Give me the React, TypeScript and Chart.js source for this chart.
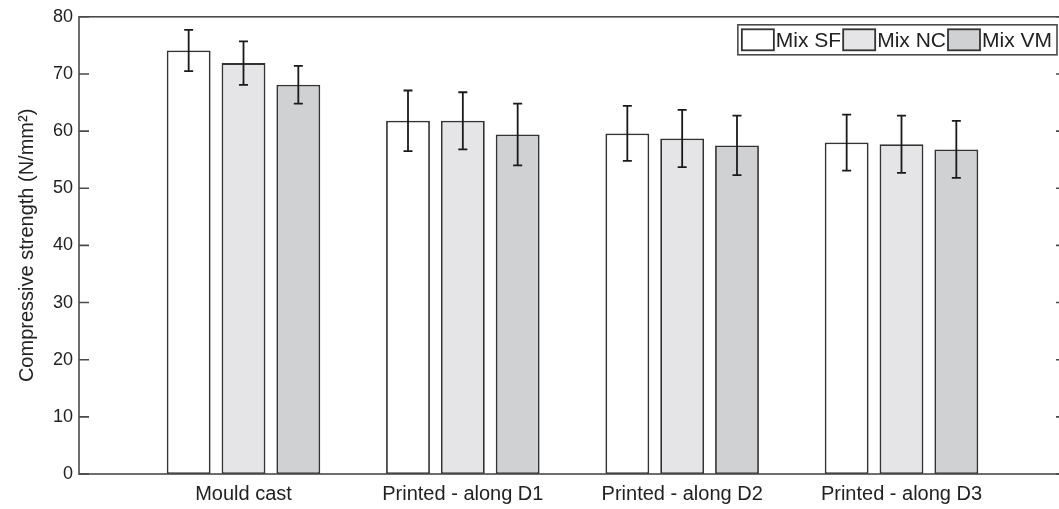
import React, { useEffect, useRef } from 'react';
import { Chart, registerables } from 'chart.js';

Chart.register(...registerables);

const categories = ['Mould cast', 'Printed - along D1', 'Printed - along D2', 'Printed - along D3'];
const categoryPositions = [1, 2, 3, 4];
const seriesNames = ['Mix SF', 'Mix NC', 'Mix VM'];
const mixSF = [74.1, 61.8, 59.6, 58.0];
const mixNC = [71.9, 61.8, 58.7, 57.7];
const mixVM = [68.1, 59.4, 57.5, 56.8];
const errSF = [3.6, 5.3, 4.8, 4.9];
const errNC = [3.8, 5.0, 5.0, 5.0];
const errVM = [3.3, 5.4, 5.2, 5.0];
const yTicks = [0, 10, 20, 30, 40, 50, 60, 70, 80];
const fillColors = ['#ffffff', '#e5e5e7', '#d0d1d3'];

const FONT = "'Liberation Sans', Arial, Helvetica, sans-serif";
const TEXT = '#222222';

const errorBarPlugin = {
  id: 'errorBars',
  afterDatasetsDraw(chart: any) {
    const { ctx } = chart;
    const y = chart.scales.y;
    ctx.save();
    ctx.strokeStyle = '#1a1a1a';
    ctx.lineWidth = 1.8;
    chart.data.datasets.forEach((ds: any, i: number) => {
      const meta = chart.getDatasetMeta(i);
      meta.data.forEach((el: any, j: number) => {
        const v = ds.data[j].y;
        const e = ds.errors[j];
        const x = el.x;
        const yt = y.getPixelForValue(v + e);
        const yb = y.getPixelForValue(v - e);
        const cap = 4.5;
        ctx.beginPath();
        ctx.moveTo(x, yt);
        ctx.lineTo(x, yb);
        ctx.moveTo(x - cap, yt);
        ctx.lineTo(x + cap, yt);
        ctx.moveTo(x - cap, yb);
        ctx.lineTo(x + cap, yb);
        ctx.stroke();
      });
    });
    ctx.restore();
  },
};

const framePlugin = {
  id: 'frame',
  afterDatasetsDraw(chart: any) {
    const { ctx, chartArea: a } = chart;
    const y = chart.scales.y;
    ctx.save();
    ctx.strokeStyle = '#4a4a4a';
    ctx.lineWidth = 1.6;
    ctx.strokeRect(a.left, a.top, a.right - a.left, a.bottom - a.top);
    ctx.beginPath();
    y.ticks.forEach((t: any) => {
      const py = y.getPixelForValue(t.value);
      ctx.moveTo(a.left, py);
      ctx.lineTo(a.left + 10, py);
      ctx.moveTo(a.right - 10, py);
      ctx.lineTo(a.right, py);
    });
    ctx.stroke();
    ctx.restore();
  },
};

const legendPlugin = {
  id: 'boxLegend',
  afterDraw(chart: any) {
    const { ctx, chartArea: a } = chart;
    const datasets = chart.data.datasets;
    ctx.save();
    ctx.font = `21px ${FONT}`;
    const sw = 32;
    const sh = 21;
    const gapAfterSwatch = 2;
    const gapAfterText = 2;
    const padL = 4;
    const padR = 3;
    let total = padL + padR;
    const widths = datasets.map((ds: any) => ctx.measureText(ds.label).width);
    widths.forEach((w: number) => (total += sw + gapAfterSwatch + w + gapAfterText));
    const boxH = 30;
    const right = a.right - 9;
    const left = right - total;
    const top = a.top + 8;
    ctx.fillStyle = '#ffffff';
    ctx.fillRect(left, top, total, boxH);
    ctx.strokeStyle = '#4a4a4a';
    ctx.lineWidth = 1.6;
    ctx.strokeRect(left, top, total, boxH);
    let x = left + padL;
    const cy = top + boxH / 2;
    datasets.forEach((ds: any, i: number) => {
      ctx.fillStyle = ds.backgroundColor;
      ctx.fillRect(x, cy - sh / 2, sw, sh);
      ctx.strokeStyle = '#333333';
      ctx.lineWidth = 1.8;
      ctx.strokeRect(x, cy - sh / 2, sw, sh);
      x += sw + gapAfterSwatch;
      ctx.fillStyle = TEXT;
      ctx.textBaseline = 'middle';
      ctx.textAlign = 'left';
      ctx.fillText(ds.label, x, cy + 1);
      x += widths[i] + gapAfterText;
    });
    ctx.restore();
  },
};

export default function App() {
  const canvasRef = useRef<HTMLCanvasElement | null>(null);

  useEffect(() => {
    const canvas = canvasRef.current;
    if (!canvas) return;
    const series = [mixSF, mixNC, mixVM];
    const errs = [errSF, errNC, errVM];
    const chart = new Chart(canvas, {
      type: 'bar',
      data: {
        datasets: series.map((vals, i) => ({
          label: seriesNames[i],
          data: vals.map((v, j) => ({ x: categoryPositions[j], y: v })),
          errors: errs[i],
          backgroundColor: fillColors[i],
          borderColor: '#333333',
          borderWidth: 1.8,
          borderSkipped: false,
          barPercentage: 0.8,
          categoryPercentage: 0.75,
        })) as any,
      },
      options: {
        animation: false,
        responsive: false,
        devicePixelRatio: 1,
        layout: { padding: { left: 0, right: 14, top: 14, bottom: 0 } },
        plugins: {
          legend: { display: false },
          tooltip: { enabled: false },
        },
        scales: {
          x: {
            type: 'linear',
            min: 0.25,
            max: 4.75,
            offset: false,
            grid: { display: false, drawTicks: false },
            border: { display: false },
            afterBuildTicks: (scale: any) => {
              scale.ticks = categoryPositions.map((v) => ({ value: v }));
            },
            afterFit: (scale: any) => {
              scale.height = 35;
            },
            ticks: {
              autoSkip: false,
              maxRotation: 0,
              padding: 8,
              color: TEXT,
              font: { family: FONT, size: 20 },
              callback: (value: any) => {
                const idx = categoryPositions.indexOf(Number(value));
                return idx >= 0 ? categories[idx] : '';
              },
            },
          },
          y: {
            min: 0,
            max: 80,
            grid: { display: false, drawTicks: false },
            border: { display: false },
            afterBuildTicks: (scale: any) => {
              scale.ticks = yTicks.map((v) => ({ value: v }));
            },
            afterFit: (scale: any) => {
              scale.width = 79;
            },
            ticks: {
              padding: 6,
              color: TEXT,
              font: { family: FONT, size: 18 },
            },
            title: {
              display: true,
              text: 'Compressive strength (N/mm²)',
              color: TEXT,
              font: { family: FONT, size: 20 },
              padding: { top: 15, bottom: 0 },
            },
          },
        },
      } as any,
      plugins: [errorBarPlugin, framePlugin, legendPlugin],
    });
    return () => chart.destroy();
  }, []);

  return (
    <div
      style={{
        position: 'fixed',
        left: 0,
        top: 0,
        width: '100vw',
        height: '100vh',
        overflow: 'hidden',
        background: '#ffffff',
      }}
    >
      <canvas
        ref={canvasRef}
        width={1080}
        height={509}
        style={{ position: 'absolute', left: 0, top: 0, width: 1080, height: 509 }}
      />
    </div>
  );
}
